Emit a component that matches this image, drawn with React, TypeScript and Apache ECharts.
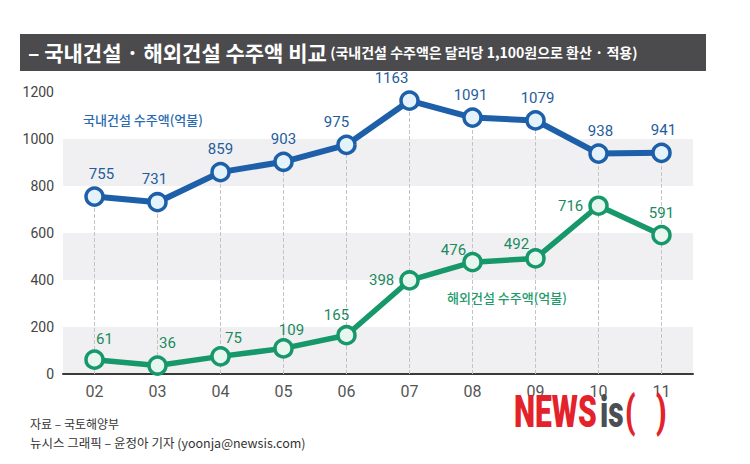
import React, { useEffect, useRef } from "react";
import * as echarts from "echarts";

const years = ["02", "03", "04", "05", "06", "07", "08", "09", "10", "11"];
const domestic = [755, 731, 859, 903, 975, 1163, 1091, 1079, 938, 941];
const overseas = [61, 36, 75, 109, 165, 398, 476, 492, 716, 591];
const yTicks = { min: 0, max: 1200, interval: 200 };

const domesticName = "국내건설 수주액(억불)";
const overseasName = "해외건설 수주액(억불)";
const titleMain = "– 국내건설 · 해외건설 수주액 비교";
const titleSub = "(국내건설 수주액은 달러당 1,100원으로 환산 · 적용)";
const source1 = "자료 – 국토해양부";
const source2 = "뉴시스 그래픽 – 윤정아 기자 (yoonja@newsis.com)";

// label placement tweaks (style only)
const domesticLabelOffsets: number[][] = [[7, 0], [-3, 0], [0, 0], [0, 0], [-10, 0], [-18, 0], [-2, 0], [2, 0], [2, 0], [2, 0]];
const overseasLabelOffsets: number[][] = [[10, 2], [10, 0], [13, 4], [8, 4], [-10, 3], [0, 0], [-19, 11], [-19, 8], [0, 0], [0, 1]];
const overseasLabelPos = ["top", "top", "top", "top", "top", "left", "top", "top", "left", "top"];

const NUM_FONT = "Roboto, 'Liberation Sans', sans-serif";
const KR_FONT = "'Noto Sans CJK KR', 'Noto Sans', sans-serif";

const BLUE = "#1d5fa8";
const GREEN = "#17986a";

export default function App() {
  const ref = useRef<HTMLDivElement>(null);
  useEffect(() => {
    if (!ref.current) return;
    const chart = echarts.init(ref.current, null, { renderer: "svg" });
    const logoText = (text: string, x: number, fill: string) => ({
      type: "text",
      x,
      y: 411,
      scaleX: 0.75,
      scaleY: 1.13,
      z: 20,
      style: {
        text,
        fill,
        fontSize: 40,
        fontWeight: 900,
        fontFamily: NUM_FONT,
        verticalAlign: "middle",
      },
    });
    const option: any = {
      animation: false,
      backgroundColor: "#ffffff",
      grid: { left: 63, right: 57, top: 92, bottom: 90 },
      xAxis: {
        type: "category",
        data: years,
        boundaryGap: true,
        axisLine: { show: true, lineStyle: { color: "#3a3a3a", width: 2 } },
        axisTick: { show: false },
        axisLabel: { color: "#555", fontSize: 16, fontFamily: NUM_FONT, margin: 9 },
        splitLine: { show: false },
      },
      yAxis: {
        type: "value",
        min: yTicks.min,
        max: yTicks.max,
        interval: yTicks.interval,
        axisLine: { show: false },
        axisTick: { show: false },
        axisLabel: {
          color: "#444",
          fontSize: 14,
          fontFamily: NUM_FONT,
          margin: 9,
          padding: [8, 0, 0, 0],
          formatter: (v: number) => String(v),
        },
        splitLine: { show: false },
        splitArea: { show: true, areaStyle: { color: ["#f0f0f2", "rgba(255,255,255,0)"] } },
      },
      series: [
        {
          type: "line",
          name: domesticName,
          data: domestic.map((v, i) => ({
            value: v,
            label: { offset: domesticLabelOffsets[i] },
          })),
          z: 3,
          symbol: "circle",
          symbolSize: 17,
          lineStyle: { color: BLUE, width: 6 },
          itemStyle: { color: "#e4f2fb", borderColor: BLUE, borderWidth: 3.5 },
          label: {
            show: true,
            position: "top",
            distance: 5,
            color: "#1f5d9c",
            fontSize: 15,
            fontFamily: NUM_FONT,
          },
          markLine: {
            silent: true,
            z: 1,
            symbol: ["none", "none"],
            label: { show: false },
            lineStyle: { color: "#c4c4c4", type: "dashed", width: 1 },
            data: domestic.map((v, i) => [
              { coord: [i, 0] },
              { coord: [i, v] },
            ]),
          },
        },
        {
          type: "line",
          name: overseasName,
          data: overseas.map((v, i) => ({
            value: v,
            label: { offset: overseasLabelOffsets[i], position: overseasLabelPos[i] },
          })),
          z: 3,
          symbol: "circle",
          symbolSize: 17,
          lineStyle: { color: GREEN, width: 5.5 },
          itemStyle: { color: "#e7f6ef", borderColor: GREEN, borderWidth: 3.5 },
          label: {
            show: true,
            position: "top",
            distance: 5,
            color: "#1b8a5f",
            fontSize: 15,
            fontFamily: NUM_FONT,
          },
        },
      ],
      graphic: [
        {
          type: "rect",
          z: 10,
          shape: { x: 20, y: 34, width: 686, height: 37 },
          style: { fill: "#4b4b4d" },
        },
        {
          type: "text",
          x: 28,
          y: 52,
          z: 11,
          style: {
            text: "{a|" + titleMain + "} {b|" + titleSub + "}",
            verticalAlign: "middle",
            rich: {
              a: { fontSize: 21, fontWeight: "bold", fill: "#ffffff", fontFamily: KR_FONT },
              b: { fontSize: 14, fontWeight: "bold", fill: "#ffffff", fontFamily: KR_FONT },
            },
          },
        },
        {
          type: "text",
          x: 83,
          y: 119,
          z: 10,
          style: { text: domesticName, fill: "#2a6bb0", fontSize: 13, fontWeight: 500, fontFamily: KR_FONT, verticalAlign: "middle" },
        },
        {
          type: "text",
          x: 447,
          y: 297,
          z: 10,
          style: { text: overseasName, fill: "#1f9a6a", fontSize: 13, fontWeight: 500, fontFamily: KR_FONT, verticalAlign: "middle" },
        },
        {
          type: "text",
          x: 30,
          y: 423,
          z: 10,
          style: { text: source1, fill: "#333", fontSize: 12, fontFamily: KR_FONT, verticalAlign: "middle" },
        },
        {
          type: "text",
          x: 30,
          y: 442,
          z: 10,
          style: { text: source2, fill: "#333", fontSize: 12.5, fontFamily: KR_FONT, verticalAlign: "middle" },
        },
        logoText("NEWS", 514, "#e3222b"),
        logoText("is", 600, "#4a4f55"),
        logoText("(", 625, "#e3222b"),
        logoText(")", 656, "#e3222b"),
      ],
    };
    chart.setOption(option);
    return () => chart.dispose();
  }, []);
  return <div ref={ref} style={{ width: 750, height: 464, position: "absolute", left: 0, top: 0 }} />;
}
